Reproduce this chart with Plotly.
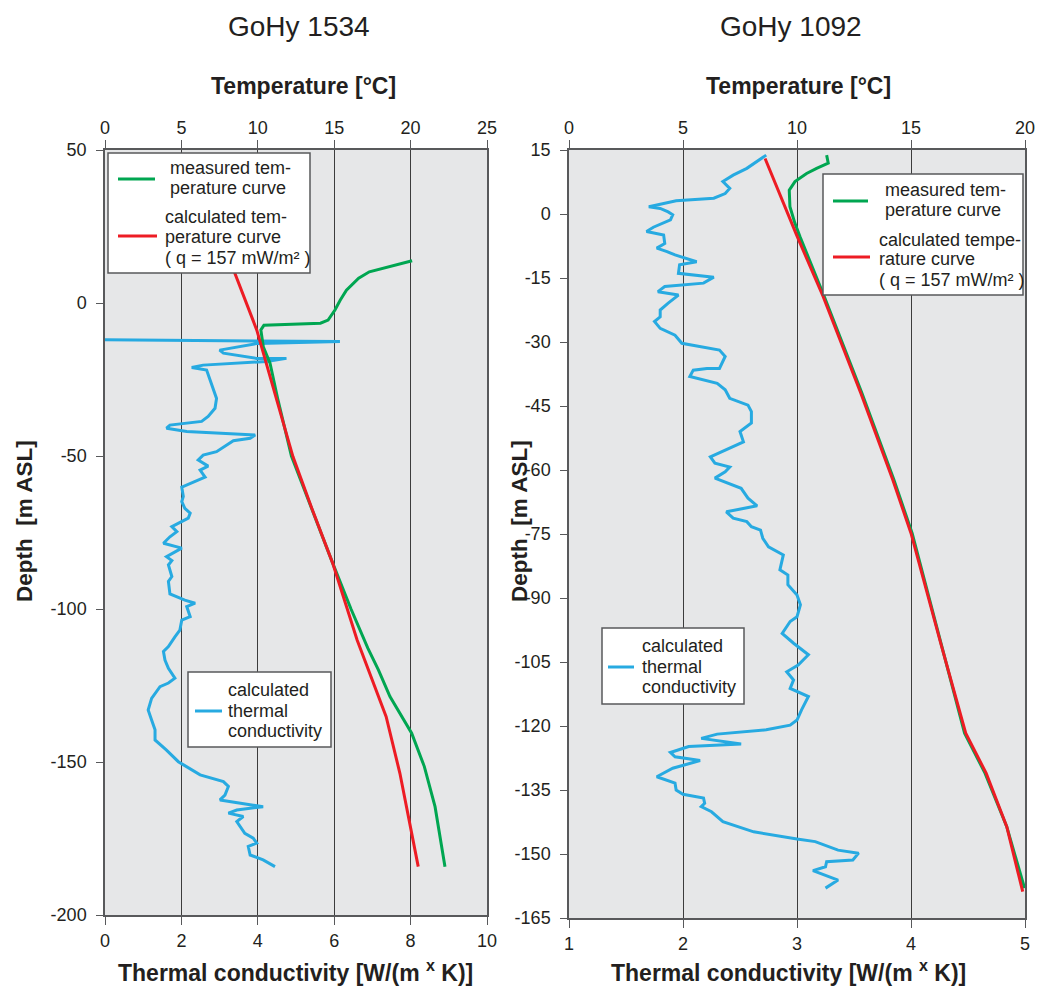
import plotly.graph_objects as go

# ---------------- data ----------------
# GoHy 1534 (left)
l_meas_temp = [20.1, 17.3, 16.6, 15.8, 15.4, 15.05, 14.6, 14.1, 10.4, 10.2, 10.36, 10.8, 11.3, 12.2,
               14.9, 16.1, 17.2, 17.9, 18.65, 20.07, 20.9, 21.6, 22.25]
l_meas_depth = [13.8, 10.2, 8.1, 4.2, 1.0, -2.3, -5.6, -6.6, -7.3, -8.8, -14.3, -19.7, -31.2, -50,
                -85, -100, -112.8, -120, -128.6, -140.6, -151.5, -164.6, -184.2]
l_calc_temp = [8.3, 8.5, 9.93, 10.36, 11.15, 12.3, 13.6, 14.9, 16.5, 16.7, 18.4, 19.3, 20.5]
l_calc_depth = [14, 9.7, -8.8, -16.4, -30.0, -50.2, -68, -85, -110.1, -112.8, -135.2, -153.7, -184.2]
l_cond = [0.0, 6.15, 4.0, 3.0, 3.1, 3.97, 4.75, 4.23, 2.57, 2.27, 2.66, 2.75, 2.84, 2.92, 2.88, 2.70,
          2.53, 1.70, 1.61, 2.14, 3.93, 3.80, 3.36, 3.14, 2.92, 2.57, 2.44, 2.70, 2.49, 2.62, 2.27,
          2.01, 2.05, 2.01, 2.09, 2.23, 2.18, 1.92, 1.75, 1.88, 1.70, 1.53, 2.01, 1.61, 1.75, 1.66,
          1.75, 1.66, 1.70, 2.09, 2.36, 2.14, 2.23, 2.01, 1.96, 1.83, 1.66, 1.53, 1.57, 1.66, 1.83,
          1.66, 1.44, 1.22, 1.13, 1.22, 1.31, 1.31, 1.61, 1.92, 2.49, 3.10, 3.23, 3.14, 3.01, 3.88,
          4.14, 3.45, 3.23, 3.62, 3.45, 3.66, 3.88, 3.97, 3.75, 3.80, 4.14, 4.45]
l_cond_depth = [-12.0, -12.6, -13.2, -15.4, -16.4, -18.1, -18.1, -19.1, -20.3, -21.1, -21.9, -25.2,
                -28.4, -31.2, -34.4, -37.1, -38.7, -39.9, -40.9, -42.0, -43.1, -44.2, -45.0, -46.9,
                -48.6, -49.7, -51.3, -53.3, -54.6, -56.9, -58.9, -60.2, -63.2, -64.9, -67.1, -68.7,
                -70.3, -72.0, -73.1, -74.7, -76.4, -78.5, -80.1, -82.9, -84.2, -85.6, -89.4, -91.0,
                -95.1, -97.1, -98.1, -99.2, -102.5, -103.6, -106.9, -109.1, -112.3, -113.9, -116.7,
                -119.4, -122.6, -124.2, -125.4, -129.2, -133.0, -136.3, -139.5, -142.8, -146.1,
                -149.9, -154.2, -156.4, -158.0, -160.8, -162.4, -164.1, -164.6, -165.7, -166.7,
                -167.8, -169.5, -173.3, -174.9, -176.5, -177.6, -180.4, -182.0, -184.2]

# GoHy 1092 (right)
r_meas_temp = [11.3, 11.37, 10.86, 10.42, 9.91, 9.66, 9.69, 9.91, 10.13, 11.2, 12.85, 14.25, 15.05,
               16.3, 17.35, 18.25, 19.2, 19.98]
r_meas_depth = [13.8, 11.9, 10.7, 9.5, 7.6, 5.6, 1.7, -2.2, -5.3, -19.4, -42, -62.3, -74.8, -100.5,
                -121.7, -131.1, -143.6, -158.0]
r_calc_temp = [8.6, 9.98, 11.15, 12.8, 14.2, 15.0, 16.3, 17.4, 18.3, 19.2, 19.9]
r_calc_depth = [13.0, -4.9, -19.4, -42, -62.3, -74.8, -100.5, -121.7, -131.1, -143.6, -158.8]
r_cond = [2.73, 2.65, 2.56, 2.44, 2.35, 2.41, 2.37, 2.27, 1.94, 1.70, 1.80, 1.87, 1.91, 1.89, 1.74,
          1.68, 1.83, 1.84, 1.77, 1.86, 1.93, 2.12, 1.97, 1.96, 2.19, 2.27, 2.18, 1.84, 1.78, 1.96,
          1.87, 1.80, 1.80, 1.75, 1.80, 1.93, 1.99, 2.32, 2.37, 2.32, 2.21, 2.09, 2.06, 2.30, 2.37,
          2.41, 2.57, 2.60, 2.60, 2.50, 2.53, 2.24, 2.28, 2.41, 2.37, 2.28, 2.51, 2.57, 2.65, 2.38,
          2.44, 2.56, 2.60, 2.68, 2.70, 2.75, 2.88, 2.85, 2.92, 2.92, 3.00, 3.03, 3.00, 2.94, 2.87,
          2.97, 3.10, 3.01, 2.91, 2.97, 2.94, 3.10, 3.04, 3.00, 2.94, 2.73, 2.30, 2.16, 2.51, 2.05,
          1.89, 1.93, 2.15, 1.91, 1.77, 1.93, 1.94, 2.00, 2.18, 2.19, 2.16, 2.25, 2.35, 2.62, 3.00,
          3.16, 3.36, 3.54, 3.49, 3.26, 3.25, 3.14, 3.36, 3.25]
r_cond_depth = [13.8, 12.3, 10.7, 9.1, 7.6, 6.0, 4.8, 3.7, 3.1, 1.7, 1.3, 0.5, -0.2, -1.4, -3.1,
                -4.1, -4.9, -6.9, -8.0, -8.8, -9.6, -11.2, -11.9, -13.9, -14.7, -14.8, -16.2, -17.0,
                -18.2, -19.0, -20.9, -22.5, -24.1, -25.2, -26.8, -28.4, -30.3, -31.9, -33.4, -36.2,
                -36.2, -36.6, -38.1, -39.7, -41.2, -43.2, -44.8, -46.3, -49.0, -51.0, -53.4, -56.9,
                -58.4, -59.3, -60.4, -61.9, -64.3, -66.6, -68.4, -69.8, -71.3, -72.1, -73.3, -74.1,
                -76.0, -78.0, -79.9, -83.4, -84.6, -86.9, -89.3, -91.6, -94.4, -95.5, -98.3, -100.6,
                -103.3, -105.7, -107.3, -109.2, -111.2, -113.1, -116.2, -118.6, -119.8, -120.9,
                -121.9, -122.9, -124.2, -124.8, -126.2, -127.2, -128.1, -129.9, -131.9, -133.4,
                -135.0, -136.0, -136.9, -138.1, -138.9, -140.1, -142.4, -144.8, -146.5, -147.1,
                -149.1, -149.8, -151.4, -151.8, -153.0, -153.9, -156.1, -158.0]

l_depth_ticks = [50, 0, -50, -100, -150, -200]
l_depth_labels = ["50", "0", "-50", "-100", "-150", "-200"]
r_depth_ticks = [15, 0, -15, -30, -45, -60, -75, -90, -105, -120, -135, -150, -165]
r_depth_labels = ["15", "0", "-15", "-30", "-45", "-60", "-75", "-90", "-105", "-120", "-135",
                  "-150", "-165"]

panel_titles = ["GoHy 1534", "GoHy 1092"]
temp_title = "Temperature [°C]"
cond_title = "Thermal conductivity [W/(m <sup>x</sup> K)]"
depth_title = "Depth\u00a0 [m ASL]"
leg_meas = ["measured tem-", "perature curve"]
leg_calc_l = ["calculated tem-", "perature curve", "( q = 157 mW/m² )"]
leg_calc_r = ["calculated tempe-", "rature curve", "( q = 157 mW/m² )"]
leg_cond = ["calculated", "thermal", "conductivity"]

assert len(l_cond) == len(l_cond_depth)
assert len(r_cond) == len(r_cond_depth)
assert len(l_meas_temp) == len(l_meas_depth)
assert len(r_meas_temp) == len(r_meas_depth)

# ---------------- styling ----------------
W, H = 1038, 989
FONT = "Liberation Sans, Arial, sans-serif"
TXT = "#231f20"
GREEN = "#00a651"
RED = "#ed1c24"
BLUE = "#27aae1"
BG = "#e6e7e8"
GRID = "#3c3c3c"
AX = "#58595b"
LW = 3


def X(px):
    return px / W


def Y(py):
    return 1 - py / H


fig = go.Figure()

# left panel
fig.add_trace(go.Scatter(x=l_meas_temp, y=l_meas_depth, xaxis="x2", yaxis="y", mode="lines",
                         line=dict(color=GREEN, width=LW), showlegend=False))
fig.add_trace(go.Scatter(x=l_calc_temp, y=l_calc_depth, xaxis="x2", yaxis="y", mode="lines",
                         line=dict(color=RED, width=LW), showlegend=False))
fig.add_trace(go.Scatter(x=l_cond, y=l_cond_depth, xaxis="x", yaxis="y", mode="lines",
                         line=dict(color=BLUE, width=LW), showlegend=False))
# right panel
fig.add_trace(go.Scatter(x=r_meas_temp, y=r_meas_depth, xaxis="x4", yaxis="y2", mode="lines",
                         line=dict(color=GREEN, width=LW), showlegend=False))
fig.add_trace(go.Scatter(x=r_calc_temp, y=r_calc_depth, xaxis="x4", yaxis="y2", mode="lines",
                         line=dict(color=RED, width=LW), showlegend=False))
fig.add_trace(go.Scatter(x=r_cond, y=r_cond_depth, xaxis="x3", yaxis="y2", mode="lines",
                         line=dict(color=BLUE, width=LW), showlegend=False))

tickfont = dict(family=FONT, size=18, color=TXT)
common_x = dict(ticks="outside", ticklen=8, tickcolor=AX, tickwidth=1.2, showline=True,
                linecolor=AX, linewidth=1.5, tickfont=tickfont, zeroline=False, fixedrange=True,
                automargin=False)
common_y = dict(ticks="outside", ticklen=7, tickcolor=AX, tickwidth=1.2, showline=True, mirror=True,
                linecolor=AX, linewidth=1.5, tickfont=tickfont, zeroline=False, showgrid=False,
                ticklabelstandoff=6, automargin=False, fixedrange=True)

L_dom = [X(105), X(487)]
R_dom = [X(569), X(1025)]

fig.update_layout(
    template="none",
    width=W, height=H,
    autosize=False,
    margin=dict(l=0, r=0, t=0, b=0, pad=0, autoexpand=False),
    paper_bgcolor="white",
    plot_bgcolor=BG,
    showlegend=False,
    xaxis=dict(domain=L_dom, anchor="y", side="bottom", range=[0, 10], dtick=2, tick0=0,
               showgrid=True, gridcolor=GRID, gridwidth=1.2, ticklabelstandoff=1, **common_x),
    xaxis2=dict(overlaying="x", anchor="y", side="top", range=[0, 25], dtick=5, tick0=0,
                showgrid=False, ticklabelstandoff=-1, **common_x),
    yaxis=dict(domain=[Y(915), Y(150)], anchor="x", range=[-200, 50], tickmode="array",
               tickvals=l_depth_ticks, ticktext=l_depth_labels, **common_y),
    xaxis3=dict(domain=R_dom, anchor="y2", side="bottom", range=[1, 5], dtick=1, tick0=0,
                showgrid=True, gridcolor=GRID, gridwidth=1.2, ticklabelstandoff=1, **common_x),
    xaxis4=dict(overlaying="x3", anchor="y2", side="top", range=[0, 20], dtick=5, tick0=0,
                showgrid=False, ticklabelstandoff=-1, **common_x),
    yaxis2=dict(domain=[Y(918), Y(150)], anchor="x3", range=[-165, 15], tickmode="array",
                tickvals=r_depth_ticks, ticktext=r_depth_labels, **common_y),
)

ann = []
shapes = []


def text(x, y, s, size, bold=False, angle=0, xanchor="center", yanchor="middle"):
    ann.append(dict(x=X(x), y=Y(y), xref="paper", yref="paper", text=(f"<b>{s}</b>" if bold else s),
                    showarrow=False, xanchor=xanchor, yanchor=yanchor, textangle=angle,
                    font=dict(family=FONT, size=size, color=TXT)))


# titles
text(299, 26, panel_titles[0], 28)
text(791, 26, panel_titles[1], 28)
text(303, 86, temp_title, 23, bold=True)
text(798, 86, temp_title, 23, bold=True)
text(295, 988, cond_title, 23, bold=True, yanchor="bottom")
text(788, 988, cond_title, 23, bold=True, yanchor="bottom")
text(24, 521, depth_title, 22.5, bold=True, angle=-90)
text(519, 521, depth_title, 22.5, bold=True, angle=-90)


def box(x0, y0, x1, y1):
    shapes.append(dict(type="rect", xref="paper", yref="paper", x0=X(x0), x1=X(x1), y0=Y(y1), y1=Y(y0),
                       fillcolor="white", line=dict(color=AX, width=1.5), layer="above"))


def sample(x0, x1, y, color):
    shapes.append(dict(type="line", xref="paper", yref="paper", x0=X(x0), x1=X(x1), y0=Y(y), y1=Y(y),
                       line=dict(color=color, width=3), layer="above"))


def lines(x, ys, strs):
    for yy, s in zip(ys, strs):
        text(x, yy, s, 18, xanchor="left")


# left top legend
box(108, 153, 310, 273)
sample(118, 155, 179, GREEN)
lines(168, [168, 188], leg_meas)
sample(118, 157, 236, RED)
lines(163, [217, 237, 258], leg_calc_l)
# left bottom legend
box(188, 672, 331, 747)
sample(195, 222, 711, BLUE)
lines(226, [690, 711, 731], leg_cond)
# right top legend
box(823, 174, 1023, 295)
sample(833, 868, 201, GREEN)
lines(883, [190, 210], leg_meas)
sample(833, 870, 257, RED)
lines(877, [240, 259, 280], leg_calc_r)
# right bottom legend
box(602, 628, 744, 704)
sample(608, 634, 667, BLUE)
lines(640, [646, 667, 687], leg_cond)

fig.update_layout(annotations=ann, shapes=shapes)
fig.write_html("out.html",
               post_script="document.body.style.margin='0';document.body.style.overflow='hidden';")
